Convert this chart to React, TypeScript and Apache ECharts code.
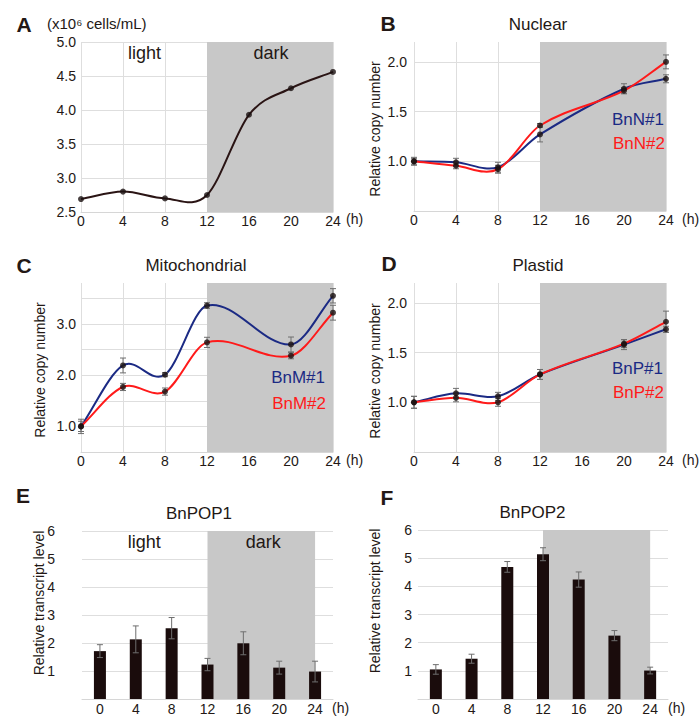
import React, { useEffect, useRef } from "react";
import * as echarts from "echarts";

// ---------- data ----------
const hours = [0, 4, 8, 12, 16, 20, 24];
const hourLabels = ["0", "4", "8", "12", "16", "20", "24"];
const cellDensity = [2.69, 2.8, 2.7, 2.75, 3.93, 4.32, 4.56];

const copyHours = [0, 4, 8, 12, 20, 24];
const nuclear1 = [1.0, 0.99, 0.94, 1.27, 1.73, 1.83];
const nuclear1Err = [0.04, 0.04, 0.05, 0.075, 0.05, 0.04];
const nuclear2 = [1.0, 0.955, 0.92, 1.36, 1.71, 2.0];
const nuclear2Err = [0.03, 0.03, 0.04, 0.02, 0.03, 0.07];

const mito1 = [1.0, 2.19, 2.01, 3.36, 2.6, 3.55];
const mito1Err = [0.14, 0.145, 0.04, 0.055, 0.145, 0.14];
const mito2 = [1.0, 1.77, 1.68, 2.64, 2.38, 3.22];
const mito2Err = [0.1, 0.07, 0.07, 0.1, 0.06, 0.145];

const plastid1 = [1.0, 1.09, 1.06, 1.28, 1.58, 1.735];
const plastid1Err = [0.06, 0.05, 0.04, 0.05, 0.05, 0.03];
const plastid2 = [1.0, 1.045, 1.0, 1.28, 1.59, 1.81];
const plastid2Err = [0.06, 0.04, 0.04, 0.05, 0.04, 0.107];

const pop1 = [1.71, 2.13, 2.53, 1.23, 1.99, 1.12, 0.98];
const pop1Err = [0.23, 0.48, 0.38, 0.22, 0.41, 0.23, 0.37];
const pop2 = [1.05, 1.43, 4.69, 5.14, 4.24, 2.25, 1.01];
const pop2Err = [0.17, 0.16, 0.19, 0.23, 0.27, 0.18, 0.12];

const shadeRange = [12, 24];

// ---------- styles ----------
const FONT = '"Liberation Sans", Arial, Helvetica, sans-serif';
const TXT = "#231815";
const SHADE = "#c8c8c8";
const GRID = "#dedede";
const NONE = "rgba(0,0,0,0)";
const BLUE = "#1b2a84";
const RED = "#ff1a1a";
const DOT = "#1a1010";
const BAR = "#1a0c0c";
const ERR = "#6e6e6e";

const grids = [
  { left: 81, top: 42, width: 252, height: 170 },
  { left: 414, top: 42, width: 252, height: 169 },
  { left: 81, top: 283, width: 252, height: 169 },
  { left: 414, top: 283, width: 252, height: 169 },
  { left: 82, top: 531, width: 251, height: 168 },
  { left: 418, top: 530, width: 250, height: 169 },
];

const labelStyle = { fontSize: 14, color: TXT, fontFamily: FONT };

function valueX(gi: number) {
  return {
    type: "value",
    gridIndex: gi,
    min: 0,
    max: 24,
    interval: 4,
    z: 1,
    axisLine: { show: true, lineStyle: { color: "#d6d6d6" } },
    axisTick: { show: false },
    splitLine: { show: true, lineStyle: { color: GRID, width: 1 } },
    axisLabel: { ...labelStyle, margin: 2 },
  };
}

function catX(gi: number) {
  return {
    type: "category",
    gridIndex: gi,
    data: hourLabels,
    z: 1,
    boundaryGap: true,
    axisLine: { show: true, lineStyle: { color: "#d6d6d6" } },
    axisTick: { show: false },
    splitLine: { show: false },
    axisLabel: { ...labelStyle, margin: 3 },
  };
}

function valueY(
  gi: number,
  min: number,
  max: number,
  interval: number,
  margin: number,
  fmt: (v: number) => string,
  lineColors: any = GRID
) {
  return {
    type: "value",
    gridIndex: gi,
    min,
    max,
    interval,
    z: 1,
    axisLine: { show: false },
    axisTick: { show: false },
    splitLine: { show: true, lineStyle: { color: lineColors, width: 1 } },
    axisLabel: { ...labelStyle, margin, formatter: fmt },
  };
}

const near = (a: number, b: number) => Math.abs(a - b) < 1e-6;
const fmtA = (v: number) => v.toFixed(1);
const fmtBD = (v: number) => ([1, 1.5, 2].some((t) => near(t, v)) ? v.toFixed(1) : "");
const fmtC = (v: number) => ([1, 2, 3].some((t) => near(t, v)) ? v.toFixed(1) : "");
const fmtBar = (v: number) => (v > 0 && near(v, Math.round(v)) ? String(v) : "");

function shade(gi: number, cat: boolean) {
  return {
    type: "line",
    xAxisIndex: gi,
    yAxisIndex: gi,
    data: [],
    z: 0,
    silent: true,
    markArea: {
      silent: true,
      itemStyle: { color: SHADE },
      data: [
        [
          { xAxis: cat ? String(shadeRange[0]) : shadeRange[0] },
          { xAxis: cat ? String(shadeRange[1]) : shadeRange[1] },
        ],
      ],
    },
  };
}

// smooth curve through the points (Hermite spline in pixel space, via the axes' scales)
function curve(gi: number, xs: number[], ys: number[], color: string, name: string) {
  const n = xs.length;
  return {
    type: "custom",
    name,
    xAxisIndex: gi,
    yAxisIndex: gi,
    z: 3,
    silent: true,
    data: xs.map((x, i) => [x, ys[i]]),
    encode: { x: 0, y: 1 },
    renderItem: (params: any, api: any) => {
      const i = params.dataIndex;
      if (i >= n - 1) return null;
      const P = (k: number) => {
        const j = Math.max(0, Math.min(n - 1, k));
        return api.coord([xs[j], ys[j]]);
      };
      const slope = (k: number) => {
        const a = P(k - 1);
        const b = P(k + 1);
        const dx = b[0] - a[0];
        return dx === 0 ? 0 : (b[1] - a[1]) / dx;
      };
      const p1 = P(i);
      const p2 = P(i + 1);
      const h = (p2[0] - p1[0]) / 3;
      const m1 = slope(i);
      const m2 = slope(i + 1);
      return {
        type: "bezierCurve",
        shape: {
          x1: p1[0],
          y1: p1[1],
          x2: p2[0],
          y2: p2[1],
          cpx1: p1[0] + h,
          cpy1: p1[1] + m1 * h,
          cpx2: p2[0] - h,
          cpy2: p2[1] - m2 * h,
        },
        style: { stroke: color, lineWidth: 2, fill: null },
      };
    },
  };
}

function dots(gi: number, xs: number[], ys: number[]) {
  return {
    type: "scatter",
    xAxisIndex: gi,
    yAxisIndex: gi,
    data: xs.map((x, i) => [x, ys[i]]),
    symbolSize: 6,
    itemStyle: { color: DOT },
    z: 5,
    silent: true,
  };
}

function errors(gi: number, xs: number[], ys: number[], errs: number[], color: string, cap: number) {
  return {
    type: "custom",
    xAxisIndex: gi,
    yAxisIndex: gi,
    z: 4,
    silent: true,
    data: xs.map((x, i) => [x, ys[i] - errs[i], ys[i] + errs[i]]),
    encode: { x: 0, y: [1, 2] },
    renderItem: (params: any, api: any) => {
      const lo = api.coord([api.value(0), api.value(1)]);
      const hi = api.coord([api.value(0), api.value(2)]);
      const style = { stroke: color, lineWidth: 1 };
      return {
        type: "group",
        children: [
          { type: "line", shape: { x1: lo[0], y1: lo[1], x2: hi[0], y2: hi[1] }, style },
          { type: "line", shape: { x1: lo[0] - cap, y1: lo[1], x2: lo[0] + cap, y2: lo[1] }, style },
          { type: "line", shape: { x1: hi[0] - cap, y1: hi[1], x2: hi[0] + cap, y2: hi[1] }, style },
        ],
      };
    },
  };
}

function bars(gi: number, ys: number[]) {
  return {
    type: "bar",
    xAxisIndex: gi,
    yAxisIndex: gi,
    data: ys,
    barWidth: 12,
    itemStyle: { color: BAR },
    z: 3,
    silent: true,
  };
}

function txt(text: string, x: number, y: number, size: number, opts: any = {}) {
  const align = opts.align || "center";
  return {
    type: "text",
    x,
    y,
    rotation: opts.rotation || 0,
    silent: true,
    z: 20,
    style: {
      text,
      fill: opts.color || TXT,
      font: `${opts.bold ? "bold " : ""}${size}px ${FONT}`,
      textAlign: align,
      textVerticalAlign: "middle",
      align,
      verticalAlign: "middle",
    },
  };
}

const graphics = [
  // A
  txt("A", 24, 24, 21, { bold: true }),
  txt("(x10⁶ cells/mL)", 47, 23, 15, { align: "left" }),
  txt("light", 144.5, 53, 18),
  txt("dark", 271, 53, 18),
  txt("(h)", 346, 219, 14, { align: "left" }),
  // B
  txt("B", 388, 23, 21, { bold: true }),
  txt("Nuclear", 538, 24, 17),
  txt("BnN#1", 664, 119, 17, { align: "right", color: BLUE }),
  txt("BnN#2", 665, 143, 17, { align: "right", color: RED }),
  txt("(h)", 682, 219, 14, { align: "left" }),
  txt("Relative copy number", 375, 129, 14, { rotation: Math.PI / 2 }),
  // C
  txt("C", 24, 265, 21, { bold: true }),
  txt("Mitochondrial", 196, 265, 17),
  txt("BnM#1", 325, 377, 17, { align: "right", color: BLUE }),
  txt("BnM#2", 326, 403, 17, { align: "right", color: RED }),
  txt("(h)", 346, 460, 14, { align: "left" }),
  txt("Relative copy number", 40, 370, 14, { rotation: Math.PI / 2 }),
  // D
  txt("D", 389, 263, 21, { bold: true }),
  txt("Plastid", 538, 265, 17),
  txt("BnP#1", 663, 368, 17, { align: "right", color: BLUE }),
  txt("BnP#2", 664, 392, 17, { align: "right", color: RED }),
  txt("(h)", 682, 460, 14, { align: "left" }),
  txt("Relative copy number", 375, 371, 14, { rotation: Math.PI / 2 }),
  // E
  txt("E", 23, 495, 21, { bold: true }),
  txt("BnPOP1", 199, 513, 17),
  txt("light", 144.3, 542, 18),
  txt("dark", 263.3, 542, 18),
  txt("(h)", 332, 708, 14, { align: "left" }),
  txt("Relative transcript level", 39, 603, 14, { rotation: Math.PI / 2 }),
  // F
  txt("F", 387, 497, 21, { bold: true }),
  txt("BnPOP2", 532.5, 512, 17),
  txt("(h)", 668, 708, 14, { align: "left" }),
  txt("Relative transcript level", 375, 601, 14, { rotation: Math.PI / 2 }),
];

const linesBD = [GRID, GRID, GRID, GRID, NONE];
const linesC = [GRID, GRID, GRID, GRID, GRID, GRID, GRID, NONE];

const option: any = {
  animation: false,
  backgroundColor: "#ffffff",
  textStyle: { fontFamily: FONT },
  grid: grids.map((g) => ({ ...g, containLabel: false })),
  xAxis: [valueX(0), valueX(1), valueX(2), valueX(3), catX(4), catX(5)],
  yAxis: [
    valueY(0, 2.5, 5.0, 0.5, 5, fmtA),
    valueY(1, 0.5, 2.2, 0.5, 7, fmtBD, linesBD),
    valueY(2, 0.5, 3.8, 0.5, 5, fmtC, linesC),
    valueY(3, 0.5, 2.2, 0.5, 7, fmtBD, linesBD),
    valueY(4, 0, 6, 1, 27, fmtBar),
    valueY(5, 0, 6, 1, 6, fmtBar),
  ],
  series: [
    // A
    shade(0, false),
    curve(0, hours, cellDensity, "#2a1414", "cells"),
    dots(0, hours, cellDensity),
    // B
    shade(1, false),
    curve(1, copyHours, nuclear1, BLUE, "BnN#1"),
    curve(1, copyHours, nuclear2, RED, "BnN#2"),
    errors(1, copyHours, nuclear1, nuclear1Err, ERR, 3),
    errors(1, copyHours, nuclear2, nuclear2Err, ERR, 3),
    dots(1, copyHours, nuclear1),
    dots(1, copyHours, nuclear2),
    // C
    shade(2, false),
    curve(2, copyHours, mito1, BLUE, "BnM#1"),
    curve(2, copyHours, mito2, RED, "BnM#2"),
    errors(2, copyHours, mito1, mito1Err, ERR, 3),
    errors(2, copyHours, mito2, mito2Err, ERR, 3),
    dots(2, copyHours, mito1),
    dots(2, copyHours, mito2),
    // D
    shade(3, false),
    curve(3, copyHours, plastid1, BLUE, "BnP#1"),
    curve(3, copyHours, plastid2, RED, "BnP#2"),
    errors(3, copyHours, plastid1, plastid1Err, ERR, 3),
    errors(3, copyHours, plastid2, plastid2Err, ERR, 3),
    dots(3, copyHours, plastid1),
    dots(3, copyHours, plastid2),
    // E
    shade(4, true),
    bars(4, pop1),
    errors(4, hours.map((_, i) => i), pop1, pop1Err, ERR, 3),
    // F
    shade(5, true),
    bars(5, pop2),
    errors(5, hours.map((_, i) => i), pop2, pop2Err, ERR, 3),
  ],
  graphic: graphics,
};

export default function App() {
  const ref = useRef<HTMLDivElement>(null);
  useEffect(() => {
    if (!ref.current) return;
    const chart = echarts.init(ref.current, null, { renderer: "svg" });
    chart.setOption(option);
    return () => chart.dispose();
  }, []);
  return (
    <div
      ref={ref}
      style={{ position: "absolute", left: 0, top: 0, width: 700, height: 716, background: "#fff" }}
    />
  );
}
